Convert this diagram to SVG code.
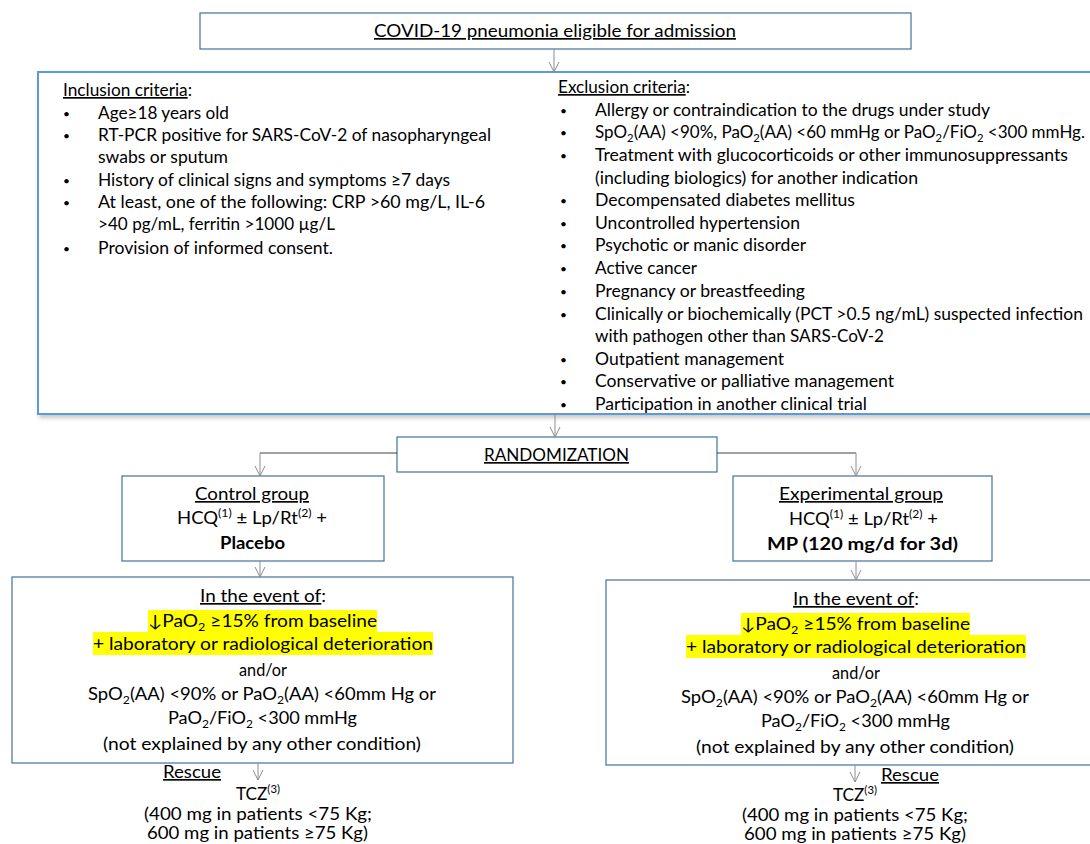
<svg xmlns="http://www.w3.org/2000/svg" width="1090" height="844" viewBox="0 0 1090 844">
<defs>
<style>
text { font-family: Lato, "Open Sans", "Liberation Sans", "DejaVu Sans", sans-serif; font-size: 16.7px; fill: #000; }
.u { text-decoration: underline; }
.b { font-weight: bold; }
.bl { font-size: 12px; }
.box { fill: #fff; stroke: #41719C; stroke-width: 1.2; }
.crit { fill: #fff; stroke: #5B9BD5; stroke-width: 2; }
.hl { fill: #FFFF00; }
.conn { fill: none; stroke: #8c8c8c; stroke-width: 1; }
.conn-d { fill: none; stroke: #404040; stroke-width: 1; }
.sub { font-size: 11px; }
</style>
<marker id="arr" viewBox="-1 -6 12 12" refX="10" refY="0" markerWidth="12" markerHeight="12" markerUnits="userSpaceOnUse" orient="auto">
<path d="M0,-5 L10,0 L0,5" fill="none" stroke="#8c8c8c" stroke-width="1"/>
</marker>
<filter id="sh" x="-5%" y="-5%" width="115%" height="115%">
<feDropShadow dx="2" dy="3" stdDeviation="2" flood-color="#000" flood-opacity="0.22"/>
</filter>
</defs>

<g id="n-admission">
<rect class="box" x="200" y="13" width="711" height="36"/>
<text x="374" y="37" textLength="362" lengthAdjust="spacingAndGlyphs" class="u">COVID-19 pneumonia eligible for admission</text>
</g>

<g id="n-criteria">
<rect class="crit" x="38" y="72" width="1070" height="342" filter="url(#sh)"/>
<text x="63" y="96" textLength="129" lengthAdjust="spacingAndGlyphs"><tspan class="u">Inclusion criteria</tspan>:</text>
<text class="bl" x="63" y="118">•</text>
<text x="98" y="119" textLength="131" lengthAdjust="spacingAndGlyphs">Age≥18 years old</text>
<text class="bl" x="63" y="140">•</text>
<text x="98" y="141" textLength="393" lengthAdjust="spacingAndGlyphs">RT-PCR positive for SARS-CoV-2 of nasopharyngeal</text>
<text x="98" y="163" textLength="130" lengthAdjust="spacingAndGlyphs">swabs or sputum</text>
<text class="bl" x="63" y="185">•</text>
<text x="98" y="186" textLength="352" lengthAdjust="spacingAndGlyphs">History of clinical signs and symptoms ≥7 days</text>
<text class="bl" x="63" y="207">•</text>
<text x="98" y="208" textLength="387" lengthAdjust="spacingAndGlyphs">At least, one of the following: CRP &gt;60 mg/L,  IL-6</text>
<text x="98" y="230" textLength="237" lengthAdjust="spacingAndGlyphs">&gt;40 pg/mL, ferritin &gt;1000 µg/L</text>
<text class="bl" x="63" y="253">•</text>
<text x="98" y="254" textLength="235" lengthAdjust="spacingAndGlyphs">Provision of informed consent.</text>

<text x="558" y="93" textLength="132" lengthAdjust="spacingAndGlyphs"><tspan class="u">Exclusion criteria</tspan>:</text>
<text class="bl" x="560" y="115">•</text>
<text x="595" y="116" textLength="395" lengthAdjust="spacingAndGlyphs">Allergy or contraindication to the drugs under study</text>
<text class="bl" x="560" y="137">•</text>
<text x="595" y="138" textLength="490" lengthAdjust="spacingAndGlyphs">SpO<tspan class="sub" dy="4">2</tspan><tspan dy="-4">(AA) &lt;90%, PaO</tspan><tspan class="sub" dy="4">2</tspan><tspan dy="-4">(AA) &lt;60 mmHg or PaO</tspan><tspan class="sub" dy="4">2</tspan><tspan dy="-4">/FiO</tspan><tspan class="sub" dy="4">2</tspan><tspan dy="-4"> &lt;300 mmHg.</tspan></text>
<text class="bl" x="560" y="160">•</text>
<text x="595" y="161" textLength="473" lengthAdjust="spacingAndGlyphs">Treatment with glucocorticoids or other immunosuppressants</text>
<text x="595" y="184" textLength="323" lengthAdjust="spacingAndGlyphs">(including biologics) for another indication</text>
<text class="bl" x="560" y="205">•</text>
<text x="595" y="206" textLength="260" lengthAdjust="spacingAndGlyphs">Decompensated diabetes mellitus</text>
<text class="bl" x="560" y="228">•</text>
<text x="595" y="229" textLength="205" lengthAdjust="spacingAndGlyphs">Uncontrolled hypertension</text>
<text class="bl" x="560" y="250">•</text>
<text x="595" y="251" textLength="211" lengthAdjust="spacingAndGlyphs">Psychotic or manic disorder</text>
<text class="bl" x="560" y="273">•</text>
<text x="595" y="274" textLength="102" lengthAdjust="spacingAndGlyphs">Active cancer</text>
<text class="bl" x="560" y="296">•</text>
<text x="595" y="297" textLength="210" lengthAdjust="spacingAndGlyphs">Pregnancy or breastfeeding</text>
<text class="bl" x="560" y="319">•</text>
<text x="595" y="320" textLength="488" lengthAdjust="spacingAndGlyphs">Clinically or biochemically (PCT &gt;0.5 ng/mL) suspected infection</text>
<text x="595" y="342" textLength="289" lengthAdjust="spacingAndGlyphs">with pathogen other than SARS-CoV-2</text>
<text class="bl" x="560" y="364">•</text>
<text x="595" y="365" textLength="189" lengthAdjust="spacingAndGlyphs">Outpatient management</text>
<text class="bl" x="560" y="386">•</text>
<text x="595" y="387" textLength="299" lengthAdjust="spacingAndGlyphs">Conservative or palliative management</text>
<text class="bl" x="560" y="409">•</text>
<text x="595" y="410" textLength="272" lengthAdjust="spacingAndGlyphs">Participation in another clinical trial</text>
</g>

<g id="n-randomization">
<rect class="box" x="397" y="437" width="320" height="35"/>
<text x="484" y="461" textLength="145" lengthAdjust="spacingAndGlyphs" class="u">RANDOMIZATION</text>
</g>

<g id="n-control">
<rect class="box" x="122" y="476" width="262" height="85"/>
<text x="195" y="500" textLength="114" lengthAdjust="spacingAndGlyphs" class="u">Control group</text>
<text x="177" y="524" textLength="150" lengthAdjust="spacingAndGlyphs">HCQ<tspan class="sub" dy="-7">(1)</tspan><tspan dy="7"> ± Lp/Rt</tspan><tspan class="sub" dy="-7">(2)</tspan><tspan dy="7"> +</tspan></text>
<text x="220" y="549" textLength="65" lengthAdjust="spacingAndGlyphs" class="b">Placebo</text>
</g>

<g id="n-experimental">
<rect class="box" x="733" y="476" width="259" height="85"/>
<text x="779" y="500" textLength="164" lengthAdjust="spacingAndGlyphs" class="u">Experimental group</text>
<text x="789" y="525" textLength="149" lengthAdjust="spacingAndGlyphs">HCQ<tspan class="sub" dy="-7">(1)</tspan><tspan dy="7"> ± Lp/Rt</tspan><tspan class="sub" dy="-7">(2)</tspan><tspan dy="7"> +</tspan></text>
<text x="767" y="550" textLength="191" lengthAdjust="spacingAndGlyphs" class="b">MP (120 mg/d for 3d)</text>
</g>

<g id="n-event-control">
<rect class="box" x="12" y="577" width="501" height="186"/>
<rect class="hl" x="148" y="610" width="229" height="22"/>
<rect class="hl" x="93" y="632" width="340" height="23"/>
<text x="200" y="602" textLength="126" lengthAdjust="spacingAndGlyphs"><tspan class="u">In the event of</tspan>:</text>
<text x="148" y="627" textLength="229" lengthAdjust="spacingAndGlyphs">↓PaO<tspan class="sub" dy="4">2</tspan><tspan dy="-4"> ≥15% from baseline</tspan></text>
<text x="93" y="650" textLength="340" lengthAdjust="spacingAndGlyphs">+ laboratory or radiological deterioration</text>
<text x="239" y="676" textLength="48" lengthAdjust="spacingAndGlyphs">and/or</text>
<text x="88" y="700" textLength="348" lengthAdjust="spacingAndGlyphs">SpO<tspan class="sub" dy="4">2</tspan><tspan dy="-4">(AA) &lt;90% or PaO</tspan><tspan class="sub" dy="4">2</tspan><tspan dy="-4">(AA) &lt;60mm Hg or</tspan></text>
<text x="168" y="724" textLength="189" lengthAdjust="spacingAndGlyphs">PaO<tspan class="sub" dy="4">2</tspan><tspan dy="-4">/FiO</tspan><tspan class="sub" dy="4">2</tspan><tspan dy="-4"> &lt;300 mmHg</tspan></text>
<text x="103" y="750" textLength="318" lengthAdjust="spacingAndGlyphs">(not explained by any other condition)</text>
</g>

<g id="n-event-experimental">
<rect class="box" x="606" y="580" width="500" height="185"/>
<rect class="hl" x="741" y="613" width="229" height="22"/>
<rect class="hl" x="686" y="635" width="340" height="23"/>
<text x="793" y="605" textLength="126" lengthAdjust="spacingAndGlyphs"><tspan class="u">In the event of</tspan>:</text>
<text x="741" y="630" textLength="229" lengthAdjust="spacingAndGlyphs">↓PaO<tspan class="sub" dy="4">2</tspan><tspan dy="-4"> ≥15% from baseline</tspan></text>
<text x="686" y="653" textLength="340" lengthAdjust="spacingAndGlyphs">+ laboratory or radiological deterioration</text>
<text x="832" y="679" textLength="48" lengthAdjust="spacingAndGlyphs">and/or</text>
<text x="681" y="703" textLength="348" lengthAdjust="spacingAndGlyphs">SpO<tspan class="sub" dy="4">2</tspan><tspan dy="-4">(AA) &lt;90% or PaO</tspan><tspan class="sub" dy="4">2</tspan><tspan dy="-4">(AA) &lt;60mm Hg or</tspan></text>
<text x="761" y="727" textLength="189" lengthAdjust="spacingAndGlyphs">PaO<tspan class="sub" dy="4">2</tspan><tspan dy="-4">/FiO</tspan><tspan class="sub" dy="4">2</tspan><tspan dy="-4"> &lt;300 mmHg</tspan></text>
<text x="696" y="753" textLength="318" lengthAdjust="spacingAndGlyphs">(not explained by any other condition)</text>
</g>

<g id="n-rescue-control">
<text x="163" y="778" textLength="58" lengthAdjust="spacingAndGlyphs" class="u">Rescue</text>
<text x="236" y="800" textLength="44" lengthAdjust="spacingAndGlyphs">TCZ<tspan class="sub" dy="-7">(3)</tspan></text>
<text x="144" y="820" textLength="228" lengthAdjust="spacingAndGlyphs">(400 mg in patients &lt;75 Kg;</text>
<text x="147" y="839" textLength="221" lengthAdjust="spacingAndGlyphs">600 mg in patients ≥75 Kg)</text>
</g>

<g id="n-rescue-experimental">
<text x="881" y="781" textLength="58" lengthAdjust="spacingAndGlyphs" class="u">Rescue</text>
<text x="833" y="801" textLength="44" lengthAdjust="spacingAndGlyphs">TCZ<tspan class="sub" dy="-7">(3)</tspan></text>
<text x="742" y="821" textLength="226" lengthAdjust="spacingAndGlyphs">(400 mg in patients &lt;75 Kg;</text>
<text x="744" y="840" textLength="222" lengthAdjust="spacingAndGlyphs">600 mg in patients ≥75 Kg)</text>
</g>

<g id="connectors">
<line class="conn" x1="554" y1="49" x2="554" y2="72" marker-end="url(#arr)"/>
<line class="conn" x1="555" y1="414" x2="555" y2="437" marker-end="url(#arr)"/>
<line class="conn-d" x1="397" y1="453" x2="260" y2="453"/>
<line class="conn" x1="260" y1="453" x2="260" y2="476" marker-end="url(#arr)"/>
<line class="conn-d" x1="717" y1="453" x2="856" y2="453"/>
<line class="conn" x1="856" y1="453" x2="856" y2="476" marker-end="url(#arr)"/>
<line class="conn" x1="260" y1="561" x2="260" y2="577" marker-end="url(#arr)"/>
<line class="conn" x1="856" y1="561" x2="856" y2="580" marker-end="url(#arr)"/>
<line class="conn" x1="258" y1="763" x2="258" y2="780" marker-end="url(#arr)"/>
<line class="conn" x1="855" y1="765" x2="855" y2="782" marker-end="url(#arr)"/>
</g>
</svg>
